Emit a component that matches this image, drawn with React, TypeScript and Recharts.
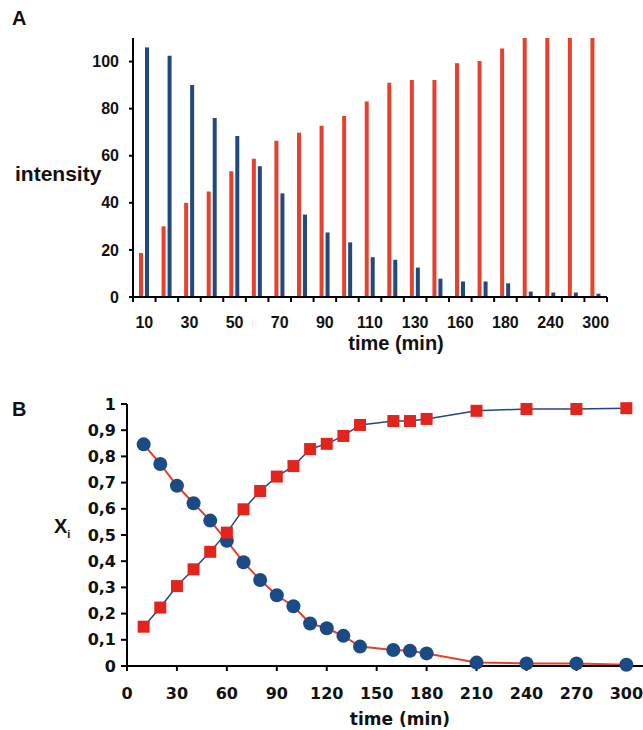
import React from "react";
import {
  BarChart,
  Bar,
  LineChart,
  Line,
  XAxis,
  YAxis,
  Label,
} from "recharts";

// sampling times (min), shared by both panels
const times = [10, 20, 30, 40, 50, 60, 70, 80, 90, 100, 110, 120, 130, 140, 160, 170, 180, 210, 240, 270, 300];

// panel A: intensities
const redIntensity = [18.7, 30, 40, 44.8, 53.4, 58.7, 66.4, 69.8, 72.7, 76.9, 83, 91, 92.2, 92.2, 99.3, 100.2, 105.5, 110, 110, 110, 110];
const blueIntensity = [106, 102.5, 90, 76, 68.4, 55.5, 44, 35, 27.4, 23.2, 16.9, 15.8, 12.5, 7.8, 6.6, 6.6, 5.8, 2.3, 1.9, 1.9, 1.4];
const intensityTicks = [0, 20, 40, 60, 80, 100];

// panel B: mole fractions
const xCircle = [0.846, 0.771, 0.688, 0.621, 0.555, 0.478, 0.396, 0.328, 0.27, 0.228, 0.162, 0.144, 0.115, 0.074, 0.061, 0.058, 0.048, 0.013, 0.01, 0.01, 0.005];
const xSquare = [0.15, 0.223, 0.305, 0.369, 0.436, 0.509, 0.598, 0.668, 0.723, 0.763, 0.828, 0.848, 0.878, 0.92, 0.935, 0.935, 0.943, 0.974, 0.981, 0.981, 0.984];
const fractionTicks = [0, 0.1, 0.2, 0.3, 0.4, 0.5, 0.6, 0.7, 0.8, 0.9, 1];
const timeTicks = [0, 30, 60, 90, 120, 150, 180, 210, 240, 270, 300];

const RED = "#e5412d";
const NAVY = "#23487f";
const DOT_NAVY = "#1b4b85";
const SQ_RED = "#e1251d";

const barData = times.map((t, i) => ({ t, red: redIntensity[i], blue: blueIntensity[i] }));
const lineData = times.map((t, i) => ({ t, c: xCircle[i], s: xSquare[i] }));

const fontA = "'Liberation Sans', Arial, sans-serif";
const fontB = "'DejaVu Sans', sans-serif";

const LABEL_GAP = 20;

const CircleDot = (props: any) => {
  const { cx, cy, index } = props;
  if (cx == null || cy == null) return null;
  return <circle key={"c" + index} cx={cx} cy={cy} r={7} fill={DOT_NAVY} />;
};

const SquareDot = (props: any) => {
  const { cx, cy, index } = props;
  if (cx == null || cy == null) return null;
  return <rect key={"s" + index} x={cx - 6} y={cy - 6} width={12} height={12} fill={SQ_RED} />;
};

// category tick: mark on the group edges, label on every other group
const EdgeTick = (props: any) => {
  const { x, y, payload, index, width } = props;
  const half = payload && payload.offset ? payload.offset : width / times.length / 2;
  const axisY = y - LABEL_GAP;
  const last = index === times.length - 1;
  return (
    <g>
      <line x1={x - half} x2={x - half} y1={axisY} y2={axisY + 5} stroke="#000" strokeWidth={2} />
      {last && <line x1={x + half} x2={x + half} y1={axisY} y2={axisY + 5} stroke="#000" strokeWidth={2} />}
      {index % 2 === 0 && (
        <text
          x={x}
          y={y}
          dy="0.71em"
          textAnchor="middle"
          fill="#111"
          fontSize={16}
          fontWeight="bold"
          fontFamily={fontA}
        >
          {payload.value}
        </text>
      )}
    </g>
  );
};

function PanelA() {
  return (
    <BarChart
      width={643}
      height={370}
      data={barData}
      margin={{ top: 38, right: 36, left: 0, bottom: 0 }}
      barGap={2}
    >
      <XAxis
        dataKey="t"
        interval={0}
        tickLine={false}
        axisLine={{ stroke: "#000", strokeWidth: 2 }}
        tickSize={0}
        tickMargin={LABEL_GAP}
        height={73}
        tick={<EdgeTick />}
      >
        <Label
          content={({ viewBox }: any) => (
            <text
              x={viewBox.x + viewBox.width / 2 + 26}
              y={viewBox.y + 53}
              textAnchor="middle"
              fill="#111"
              fontSize={20}
              fontWeight="bold"
              fontFamily={fontA}
            >
              time (min)
            </text>
          )}
        />
      </XAxis>
      <YAxis
        width={133}
        domain={[0, 110]}
        ticks={intensityTicks}
        tickSize={4}
        tickMargin={10}
        axisLine={{ stroke: "#000", strokeWidth: 2 }}
        tickLine={{ stroke: "#000", strokeWidth: 2 }}
        tick={{ fill: "#111", fontSize: 16, fontWeight: "bold", fontFamily: fontA }}
      >
        <Label
          content={({ viewBox }: any) => (
            <text
              x={15}
              y={viewBox.y + 143}
              fill="#111"
              fontSize={21}
              fontWeight="bold"
              fontFamily={fontA}
            >
              intensity
            </text>
          )}
        />
      </YAxis>
      <Bar dataKey="red" fill={RED} barSize={4} isAnimationActive={false} />
      <Bar dataKey="blue" fill={NAVY} barSize={4} isAnimationActive={false} />
    </BarChart>
  );
}

function PanelB() {
  return (
    <LineChart
      width={643}
      height={360}
      data={lineData}
      margin={{ top: 34, right: 0, left: 0, bottom: 0 }}
    >
      <XAxis
        dataKey="t"
        type="number"
        domain={[0, 310]}
        ticks={timeTicks}
        height={64}
        tickSize={5}
        tickMargin={17}
        axisLine={{ stroke: "#000", strokeWidth: 2 }}
        tickLine={{ stroke: "#000", strokeWidth: 2 }}
        tick={{ fill: "#111", fontSize: 16, fontWeight: "bold", fontFamily: fontB }}
      >
        <Label
          content={({ viewBox }: any) => (
            <text
              x={400}
              y={viewBox.y + 59}
              textAnchor="middle"
              fill="#111"
              fontSize={17}
              fontWeight="bold"
              fontFamily={fontB}
            >
              time (min)
            </text>
          )}
        />
      </XAxis>
      <YAxis
        width={127}
        domain={[0, 1]}
        ticks={fractionTicks}
        tickSize={6}
        tickMargin={5}
        tickFormatter={(v: number) => String(Math.round(v * 10) / 10).replace(".", ",")}
        axisLine={{ stroke: "#000", strokeWidth: 2 }}
        tickLine={{ stroke: "#000", strokeWidth: 2 }}
        tick={{ fill: "#111", fontSize: 16, fontWeight: "bold", fontFamily: fontB }}
      >
        <Label
          content={({ viewBox }: any) => (
            <text
              x={54}
              y={viewBox.y + viewBox.height / 2 - 2}
              fill="#111"
              fontSize={20}
              fontWeight="bold"
              fontFamily={fontA}
            >
              X
              <tspan fontSize={11} dy={5}>
                i
              </tspan>
            </text>
          )}
        />
      </YAxis>
      <Line
        type="linear"
        dataKey="c"
        stroke={RED}
        strokeWidth={2}
        dot={<CircleDot />}
        activeDot={false}
        isAnimationActive={false}
      />
      <Line
        type="linear"
        dataKey="s"
        stroke={NAVY}
        strokeWidth={1.5}
        dot={<SquareDot />}
        activeDot={false}
        isAnimationActive={false}
      />
    </LineChart>
  );
}

export default function App() {
  const letter: React.CSSProperties = {
    position: "absolute",
    left: 12,
    fontFamily: fontA,
    fontWeight: "bold",
    fontSize: 20,
    color: "#111",
    lineHeight: 1,
  };
  return (
    <div style={{ position: "absolute", left: 0, top: 0, width: 643, height: 730, background: "#fff", overflow: "hidden" }}>
      <div style={{ ...letter, top: 8 }}>A</div>
      <div style={{ ...letter, top: 399 }}>B</div>
      <div style={{ position: "absolute", left: 0, top: 0 }}>
        <PanelA />
      </div>
      <div style={{ position: "absolute", left: 0, top: 370 }}>
        <PanelB />
      </div>
    </div>
  );
}
